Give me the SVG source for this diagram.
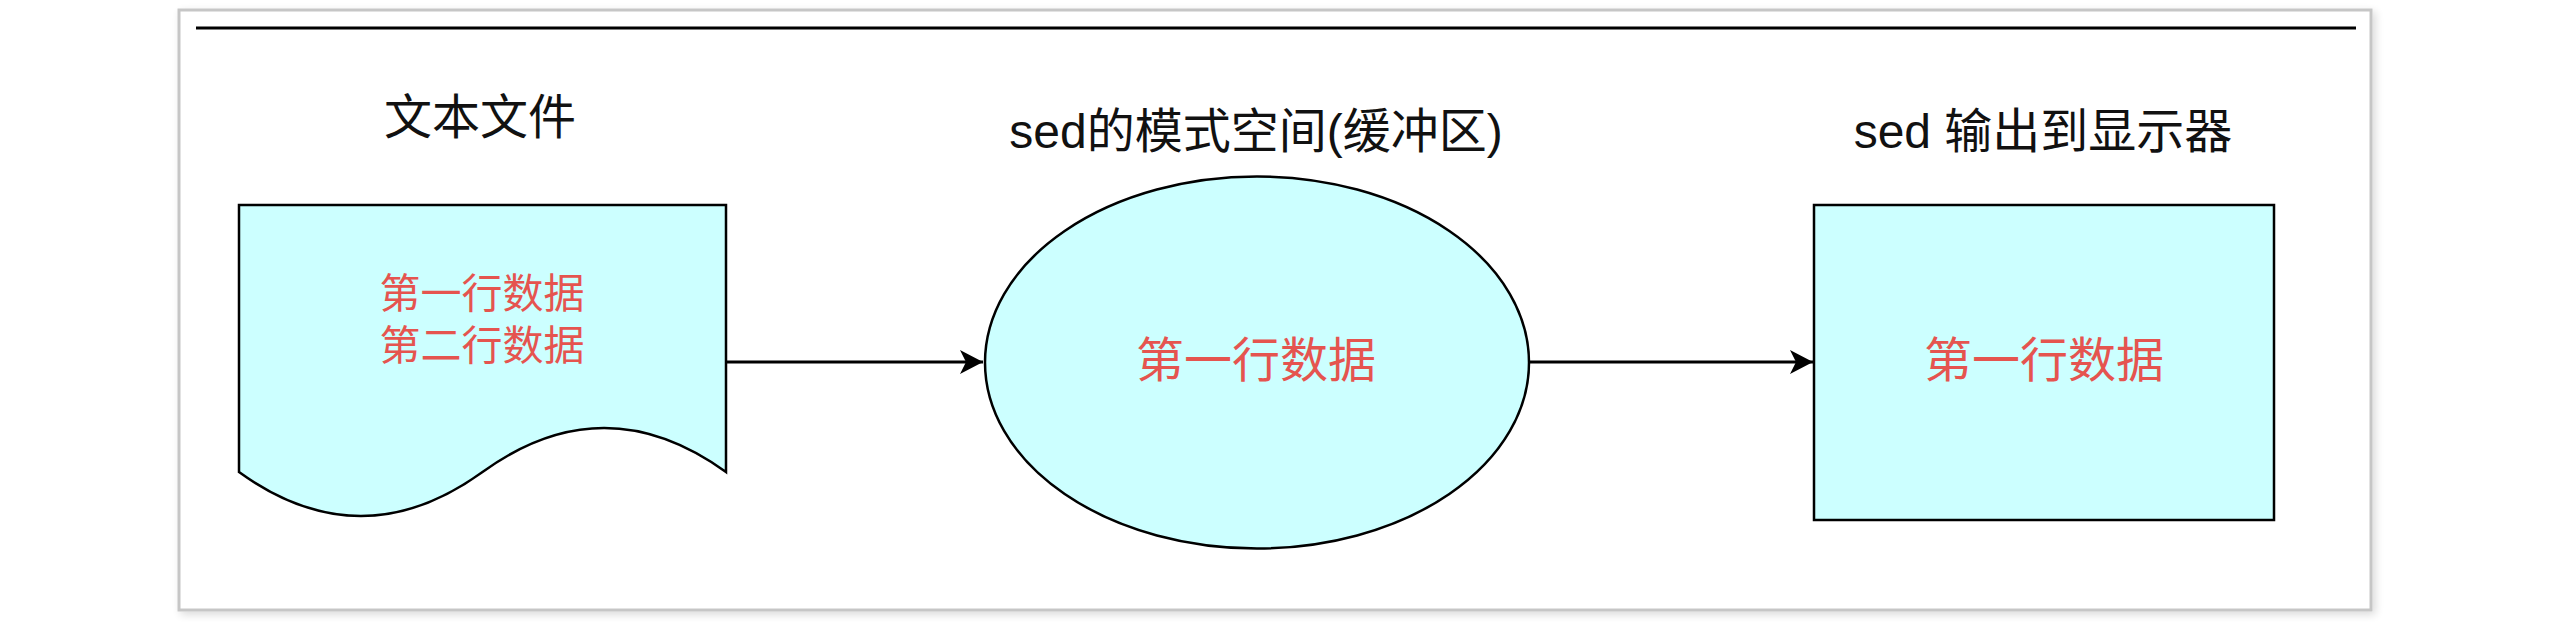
<svg xmlns="http://www.w3.org/2000/svg" width="2560" height="622" viewBox="0 0 2560 622">
<style>
  .shape { fill: #CCFFFF; stroke: #000; stroke-width: 2.5; }
  .title { font-family: "Liberation Sans", "Noto Sans CJK SC", sans-serif; font-size: 48px; fill: #111; text-anchor: middle; }
  .data { font-family: "Liberation Sans", "Noto Sans CJK SC", sans-serif; fill: #E5544F; text-anchor: middle; }
  .conn { stroke: #000; stroke-width: 3; fill: none; marker-end: url(#arrow); }
</style>
<defs>
  <marker id="arrow" markerUnits="userSpaceOnUse" markerWidth="26" markerHeight="26" refX="23" refY="12" orient="auto" viewBox="0 0 26 24">
    <path d="M0,0 L23,12 L0,24 L6,12 Z" fill="#000"/>
  </marker>
  <filter id="shadow" x="-5%" y="-5%" width="110%" height="115%">
    <feGaussianBlur in="SourceAlpha" stdDeviation="4"/>
    <feOffset dx="3" dy="3" result="b"/>
    <feComponentTransfer><feFuncA type="linear" slope="0.15"/></feComponentTransfer>
    <feMerge><feMergeNode/><feMergeNode in="SourceGraphic"/></feMerge>
  </filter>
</defs>
<rect width="2560" height="622" fill="#fff"/>
<rect id="frame" x="179" y="10" width="2192" height="600" fill="#fff" stroke="#c6c6c6" stroke-width="3" filter="url(#shadow)"/>
<line x1="196" y1="28" x2="2356" y2="28" stroke="#000" stroke-width="3"/>

<g id="connectors">
  <line class="conn" x1="726" y1="362" x2="983" y2="362"/>
  <line class="conn" x1="1529" y1="362" x2="1813" y2="362"/>
</g>

<g id="text-file">
  <text class="title" x="480" y="134">文本文件</text>
  <path class="shape" d="M239,205 L726,205 L726,472 Q604,384 482.5,472 Q361,560 239,472 Z"/>
  <text class="data" x="482" y="308" font-size="41">第一行数据</text>
  <text class="data" x="482" y="360" font-size="41">第二行数据</text>
</g>

<g id="pattern-space">
  <text class="title" x="1256" y="148">sed的模式空间(缓冲区)</text>
  <ellipse class="shape" cx="1257" cy="362.5" rx="272" ry="186"/>
  <text class="data" x="1256" y="377" font-size="48">第一行数据</text>
</g>

<g id="output">
  <text class="title" x="2043" y="148">sed 输出到显示器</text>
  <rect class="shape" x="1814" y="205" width="460" height="315"/>
  <text class="data" x="2044" y="377" font-size="48">第一行数据</text>
</g>
</svg>
